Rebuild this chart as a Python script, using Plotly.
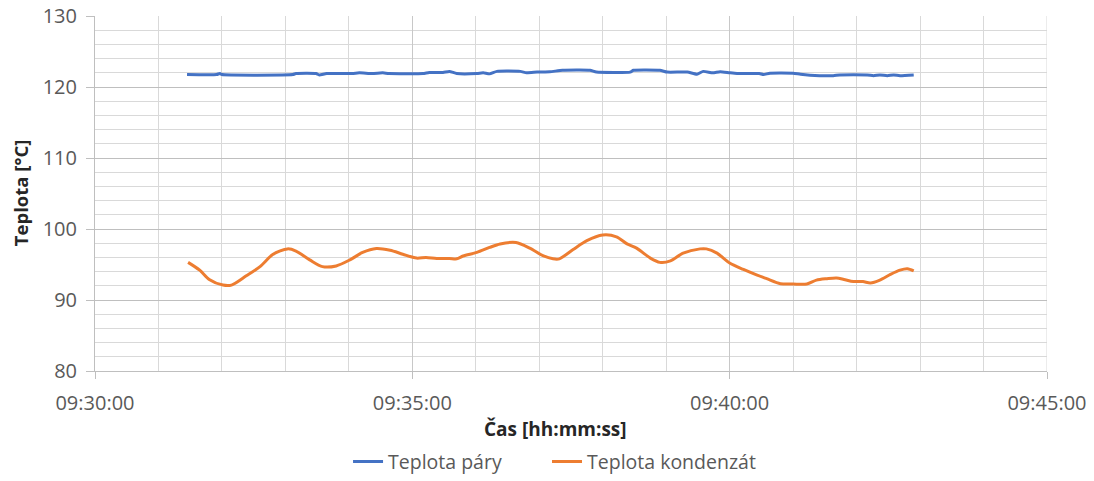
import plotly.graph_objects as go

DAY = "2000-01-01 "

# Teplota páry (steam temperature)
time_para = ["09:31:27", "09:31:55", "09:31:58", "09:32:00", "09:33:07", "09:33:10", "09:33:29",
             "09:33:32", "09:33:39", "09:34:03", "09:34:10", "09:34:22", "09:34:32", "09:34:38",
             "09:35:10", "09:35:16", "09:35:29", "09:35:35", "09:35:42", "09:36:01", "09:36:07",
             "09:36:13", "09:36:20", "09:36:42", "09:36:48", "09:36:58", "09:37:10", "09:37:22",
             "09:37:48", "09:37:54", "09:38:26", "09:38:29", "09:38:54", "09:39:01", "09:39:20",
             "09:39:29", "09:39:35", "09:39:44", "09:39:51", "09:40:00", "09:40:07", "09:40:28",
             "09:40:32", "09:40:38", "09:41:00", "09:41:07", "09:41:25", "09:41:38", "09:41:44",
             "09:42:10", "09:42:16", "09:42:22", "09:42:29", "09:42:35", "09:42:41", "09:42:54"]
val_para = [121.75, 121.75, 121.9, 121.75, 121.75, 121.9, 121.9,
            121.7, 121.9, 121.9, 122.0, 121.9, 122.0, 121.9,
            121.9, 122.05, 122.05, 122.2, 121.9, 121.9, 122.0,
            121.85, 122.2, 122.2, 122.0, 122.1, 122.15, 122.35,
            122.35, 122.1, 122.1, 122.35, 122.35, 122.1, 122.1,
            121.8, 122.2, 122.0, 122.15, 122.0, 121.9, 121.9,
            121.75, 121.95, 121.95, 121.8, 121.6, 121.6, 121.7,
            121.7, 121.6, 121.7, 121.6, 121.7, 121.6, 121.7]

# Teplota kondenzát (condensate temperature)
time_kond = ["09:31:28", "09:31:39", "09:31:48", "09:32:01", "09:32:09", "09:32:23", "09:32:36",
             "09:32:48", "09:33:02", "09:33:10", "09:33:23", "09:33:35", "09:33:48", "09:34:01",
             "09:34:13", "09:34:26", "09:34:39", "09:34:51", "09:35:04", "09:35:13", "09:35:23",
             "09:35:35", "09:35:42", "09:35:48", "09:36:01", "09:36:13", "09:36:23", "09:36:38",
             "09:36:51", "09:37:04", "09:37:13", "09:37:19", "09:37:32", "09:37:45", "09:38:00",
             "09:38:13", "09:38:23", "09:38:32", "09:38:45", "09:38:54", "09:39:04", "09:39:16",
             "09:39:32", "09:39:38", "09:39:48", "09:40:00", "09:40:13", "09:40:26", "09:40:35",
             "09:40:48", "09:41:00", "09:41:13", "09:41:22", "09:41:32", "09:41:41", "09:41:48",
             "09:41:57", "09:42:06", "09:42:13", "09:42:22", "09:42:32", "09:42:41", "09:42:48",
             "09:42:54"]
val_kond = [95.3, 94.2, 92.9, 92.1, 92.1, 93.4, 94.7,
            96.4, 97.2, 96.9, 95.65, 94.7, 94.8, 95.65,
            96.7, 97.25, 97.0, 96.45, 95.9, 96.0, 95.85,
            95.85, 95.8, 96.2, 96.7, 97.4, 97.9, 98.1,
            97.3, 96.2, 95.8, 95.8, 97.1, 98.35, 99.15,
            98.9, 97.9, 97.3, 95.9, 95.3, 95.5, 96.6,
            97.2, 97.2, 96.6, 95.2, 94.3, 93.5, 93.0,
            92.3, 92.25, 92.25, 92.8, 93.0, 93.1, 92.9,
            92.6, 92.6, 92.4, 92.8, 93.6, 94.2, 94.4,
            94.1]

x_range = ["09:30:00", "09:45:00"]
y_range = [80, 130]

FONT = "Open Sans"
TICK_COLOR = "#595959"
TITLE_COLOR = "#262626"

fig = go.Figure()
fig.add_trace(go.Scatter(x=[DAY + t for t in time_para], y=val_para, mode="lines",
                         name="Teplota páry", legend="legend",
                         line=dict(color="#4472C4", width=3, shape="spline", smoothing=0.5)))
fig.add_trace(go.Scatter(x=[DAY + t for t in time_kond], y=val_kond, mode="lines",
                         name="Teplota kondenzát", legend="legend2",
                         line=dict(color="#ED7D31", width=3, shape="spline", smoothing=0.8)))

legend_style = dict(orientation="h", y=-0.256, yanchor="middle", xanchor="left",
                    font=dict(size=19.5, color=TICK_COLOR), bgcolor="rgba(0,0,0,0)")

# the page body adds an 8px offset, so margins are shifted accordingly
fig.update_layout(
    width=1094, height=481,
    margin=dict(l=87, r=55, t=8, b=118, autoexpand=False),
    paper_bgcolor="white", plot_bgcolor="white",
    font=dict(family=FONT, color=TICK_COLOR, size=19),
    showlegend=True,
    legend=dict(x=0.2658, **legend_style),
    legend2=dict(x=0.4748, **legend_style),
    xaxis=dict(
        type="date",
        range=[DAY + x_range[0], DAY + x_range[1]],
        dtick=300000, tickformat="%H:%M:%S",
        showgrid=True, gridcolor="#C8C8C8", gridwidth=1,
        minor=dict(dtick=60000, showgrid=True, gridcolor="#D9D9D9", gridwidth=1),
        showline=True, linecolor="#BFBFBF", linewidth=1,
        ticks="outside", ticklen=7, tickcolor="#BFBFBF",
        tickfont=dict(size=20, color=TICK_COLOR),
        ticklabelstandoff=7, ticklabeloverflow="allow",
        automargin=False, zeroline=False, mirror=False,
    ),
    yaxis=dict(
        range=y_range, dtick=10,
        showgrid=True, gridcolor="#BFBFBF", gridwidth=1,
        minor=dict(dtick=2, showgrid=True, gridcolor="#D9D9D9", gridwidth=1),
        showline=True, linecolor="#BFBFBF", linewidth=1,
        ticks="outside", ticklen=8, tickcolor="#BFBFBF",
        tickfont=dict(size=20, color=TICK_COLOR),
        ticklabelstandoff=5, ticklabeloverflow="allow",
        automargin=False, zeroline=False,
    ),
    annotations=[
        dict(text="<b>Teplota [°C]</b>", xref="paper", yref="paper", x=-0.0788, y=0.501,
             xanchor="center", yanchor="middle", textangle=-90, showarrow=False,
             font=dict(size=18.5, color=TITLE_COLOR, family=FONT)),
        dict(text="<b>Čas [hh:mm:ss]</b>", xref="paper", yref="paper", x=0.484, y=-0.163,
             xanchor="center", yanchor="middle", showarrow=False,
             font=dict(size=19, color=TITLE_COLOR, family=FONT)),
    ],
)

# right border line at 09:45
fig.add_shape(type="line", xref="x", yref="paper", x0=DAY + x_range[1], x1=DAY + x_range[1],
              y0=0, y1=1, line=dict(color="#D9D9D9", width=1), layer="below")

fig.write_html("out.html")
